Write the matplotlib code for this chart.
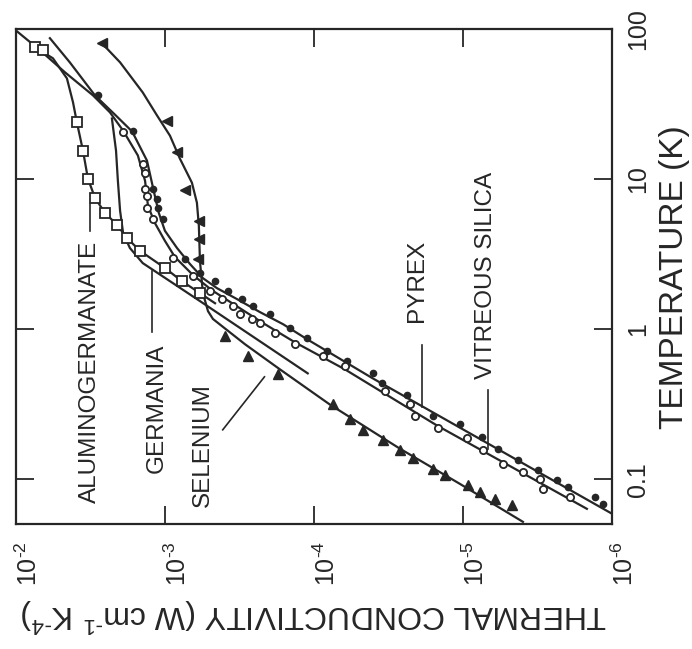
import matplotlib.pyplot as plt

plt.rcParams['font.family'] = ['Liberation Sans', 'DejaVu Sans']
plt.rcParams['mathtext.fontset'] = 'custom'
plt.rcParams['mathtext.rm'] = 'Liberation Sans'
plt.rcParams['mathtext.it'] = 'Liberation Sans:italic'
plt.rcParams['mathtext.bf'] = 'Liberation Sans:bold'

INK = '#262626'

# temperature (K) and thermal conductivity (W/cm K)
pyrex_line_T = [87.1, 60.1, 36.2, 27.0, 20.8, 13.3, 8.38, 5.97, 4.53, 3.48, 2.72, 2.19,
                1.88, 1.59, 1.30, 1.08, 0.857, 0.470, 0.181, 0.059]
pyrex_line_k = [5.92e-3, 4.35e-3, 2.95e-3, 2.17e-3, 1.66e-3, 1.32e-3, 1.19e-3, 1.10e-3,
                1.00e-3, 8.30e-4, 6.79e-4, 5.56e-4, 4.48e-4, 3.29e-4, 2.30e-4, 1.61e-4,
                1.11e-4, 4.02e-5, 7.35e-6, 1.0e-6]
pyrex_pts_T = [36.2, 21.1, 8.63, 7.41, 6.44, 5.44, 2.94, 2.37, 2.09, 1.79, 1.59, 1.43,
               1.26, 1.02, 0.871, 0.713, 0.611, 0.508, 0.436, 0.367, 0.262, 0.232, 0.192,
               0.160, 0.135, 0.116, 0.0993, 0.0891, 0.0764, 0.0686]
pyrex_pts_k = [2.82e-3, 1.64e-3, 1.21e-3, 1.13e-3, 1.11e-3, 1.03e-3, 7.35e-4, 5.82e-4,
               4.61e-4, 3.78e-4, 3.04e-4, 2.56e-4, 1.97e-4, 1.45e-4, 1.11e-4, 8.18e-5,
               6.01e-5, 4.02e-5, 3.50e-5, 2.38e-5, 1.59e-5, 1.05e-5, 7.45e-6, 5.82e-6,
               4.28e-6, 3.14e-6, 2.34e-6, 1.97e-6, 1.30e-6, 1.15e-6]

silica_line_T = [98, 72.4, 51.6, 36.2, 27.9, 21.1, 14.4, 9.77, 6.65, 5.12, 3.88, 3.03,
                 2.30, 1.82, 1.45, 1.11, 0.818, 0.540, 0.228, 0.0635]
silica_line_k = [1.0e-2, 6.90e-3, 4.69e-3, 3.04e-3, 2.34e-3, 1.91e-3, 1.52e-3, 1.36e-3,
                 1.30e-3, 1.17e-3, 1.00e-3, 8.57e-4, 6.49e-4, 4.84e-4, 3.39e-4, 2.23e-4,
                 1.34e-4, 6.19e-5, 1.49e-5, 1.47e-6]
silica_pts_T = [20.5, 12.7, 11.0, 8.63, 7.76, 6.44, 5.44, 2.99, 2.26, 1.79, 1.59, 1.43,
                1.26, 1.17, 1.10, 0.94, 0.794, 0.659, 0.566, 0.385, 0.315, 0.262, 0.218,
                0.187, 0.157, 0.127, 0.112, 0.101, 0.0863, 0.0764]
silica_pts_k = [1.91e-3, 1.41e-3, 1.36e-3, 1.36e-3, 1.32e-3, 1.32e-3, 1.21e-3, 8.83e-4,
                6.49e-4, 4.99e-4, 4.14e-4, 3.50e-4, 3.14e-4, 2.61e-4, 2.30e-4, 1.83e-4,
                1.34e-4, 8.71e-5, 6.19e-5, 3.33e-5, 2.27e-5, 2.10e-5, 1.47e-5, 9.40e-6,
                7.35e-6, 5.40e-6, 3.95e-6, 3.04e-6, 2.90e-6, 1.91e-6]

alumino_line_T = [75.8, 64.0, 47.0, 32.5, 23.9, 15.5, 10.1, 7.52, 5.97, 4.97, 4.06, 3.33,
                  2.56, 2.09, 1.74, 1.49]
alumino_line_k = [7.46e-3, 5.65e-3, 4.55e-3, 4.14e-3, 3.90e-3, 3.55e-3, 3.29e-3, 2.95e-3,
                  2.53e-3, 2.10e-3, 1.80e-3, 1.47e-3, 1.00e-3, 7.69e-4, 5.82e-4, 4.61e-4]
alumino_pts_T = [75.8, 72.4, 23.9, 15.5, 10.1, 7.52, 5.97, 4.97, 4.06, 3.33, 2.56, 2.09, 1.74]
alumino_pts_k = [7.46e-3, 6.59e-3, 3.90e-3, 3.55e-3, 3.29e-3, 2.95e-3, 2.53e-3, 2.10e-3,
                 1.80e-3, 1.47e-3, 1.00e-3, 7.69e-4, 5.82e-4]

germania_T = [25.4, 15.5, 9.77, 6.15, 4.39, 3.48, 2.76, 1.54, 0.508]
germania_k = [2.27e-3, 2.13e-3, 2.07e-3, 2.00e-3, 1.91e-3, 1.72e-3, 1.41e-3, 5.82e-4, 1.10e-4]

selenium_line_T = [80.6, 60.1, 37.9, 26.6, 19.5, 13.7, 9.48, 6.97, 4.89, 2.85, 1.74, 1.32,
                   1.17, 0.794, 0.540, 0.315, 0.160, 0.0933, 0.0520]
selenium_line_k = [2.65e-3, 2.00e-3, 1.41e-3, 1.13e-3, 9.25e-4, 7.93e-4, 6.59e-4, 6.10e-4,
                   5.92e-4, 5.82e-4, 5.56e-4, 5.14e-4, 4.76e-4, 2.90e-4, 1.69e-4, 7.82e-5,
                   2.65e-5, 1.05e-5, 3.95e-6]
selenium_hi_T = [80.6, 24.6, 15.3, 8.51, 5.27, 4.00, 2.94]
selenium_hi_k = [2.65e-3, 9.70e-4, 8.30e-4, 7.35e-4, 5.92e-4, 5.92e-4, 6.01e-4]
selenium_lo_T = [0.898, 0.659, 0.500, 0.315, 0.254, 0.214, 0.184, 0.157, 0.139, 0.117,
                 0.107, 0.0918, 0.0824, 0.0741, 0.0675]
selenium_lo_k = [3.95e-4, 2.77e-4, 1.75e-4, 7.45e-5, 5.73e-5, 4.69e-5, 3.44e-5, 2.65e-5,
                 2.17e-5, 1.59e-5, 1.32e-5, 9.25e-6, 7.69e-6, 6.10e-6, 4.69e-6]

k_ticks = [1e-2, 1e-3, 1e-4, 1e-5, 1e-6]
k_labels = [r'$10^{\text{-}2}$', r'$10^{\text{-}3}$', r'$10^{\text{-}4}$',
            r'$10^{\text{-}5}$', r'$10^{\text{-}6}$']
T_ticks = [0.1, 1, 10, 100]
T_labels = ['0.1', '1', '10', '100']

# the printed figure is turned a quarter turn: conductivity runs along the bottom
fig = plt.figure(figsize=(6.92, 6.49), dpi=100)
ax = fig.add_axes([0.0231, 0.192, 0.861, 0.763])

lw = 1.6
ax.plot(pyrex_line_k, pyrex_line_T, color=INK, lw=lw)
ax.plot(silica_line_k, silica_line_T, color=INK, lw=lw)
ax.plot(alumino_line_k, alumino_line_T, color=INK, lw=lw)
ax.plot(germania_k, germania_T, color=INK, lw=lw)
ax.plot(selenium_line_k, selenium_line_T, color=INK, lw=lw)

ax.plot(pyrex_pts_k, pyrex_pts_T, 'o', ms=4.5, color=INK, ls='none')
ax.plot(silica_pts_k, silica_pts_T, 'o', ms=5.2, mfc='white', mec=INK, mew=1.3, ls='none')
ax.plot(alumino_pts_k, alumino_pts_T, 's', ms=7, mfc='white', mec=INK, mew=1.3, ls='none')
ax.plot(selenium_hi_k, selenium_hi_T, '<', ms=6.5, color=INK, ls='none')
ax.plot(selenium_lo_k, selenium_lo_T, '^', ms=6.5, color=INK, ls='none')

ax.set_xscale('log')
ax.set_yscale('log')
ax.set_xlim(1e-2, 1e-6)
ax.set_ylim(0.05, 100)
ax.minorticks_off()

ax.yaxis.tick_right()
ax.set_xticks(k_ticks, labels=k_labels)
ax.set_yticks(T_ticks, labels=T_labels)
ax.tick_params(which='both', direction='in', length=13, width=1.3, color=INK,
               top=True, bottom=True, left=True, right=True,
               labelleft=False, labelright=True, labelsize=18, labelcolor=INK)
ax.tick_params(axis='x', labelrotation=90, pad=12)
ax.tick_params(axis='y', labelrotation=90, pad=10)
for lab in ax.get_xticklabels():
    lab.set_ha('left')
for lab in ax.get_yticklabels():
    lab.set_va('center')

for spine in ax.spines.values():
    spine.set_linewidth(1.6)
    spine.set_color(INK)

# curve names with their leader lines
name_kw = dict(rotation=90, ha='center', va='center', fontsize=17.5, color=INK,
               transform=ax.transAxes)
ax.text(0.124, 0.308, 'ALUMINOGERMANATE', **name_kw)
ax.text(0.236, 0.235, 'GERMANIA', **name_kw)
ax.text(0.313, 0.160, 'SELENIUM', **name_kw)
ax.text(0.673, 0.491, 'PYREX', **name_kw)
ax.text(0.789, 0.503, 'VITREOUS SILICA', **name_kw)

lead_kw = dict(color=INK, lw=1.2, transform=ax.transAxes, clip_on=False)
ax.plot([0.124, 0.124], [0.592, 0.647], **lead_kw)
ax.plot([0.228, 0.228], [0.389, 0.511], **lead_kw)
ax.plot([0.347, 0.417], [0.191, 0.298], **lead_kw)
ax.plot([0.682, 0.682], [0.363, 0.237], **lead_kw)
ax.plot([0.792, 0.792], [0.272, 0.152], **lead_kw)

ax.text(1.106, 0.5, 'TEMPERATURE (K)', rotation=90, ha='center', va='center',
        fontsize=24, color=INK, transform=ax.transAxes)
ax.text(0.5, -0.183, r'THERMAL CONDUCTIVITY (W cm$^{\text{-}1}$ K$^{\text{-}4}$)',
        rotation=180, ha='center', va='center', fontsize=23, color=INK,
        transform=ax.transAxes)

fig.savefig('out.png', dpi=100, facecolor='white')
